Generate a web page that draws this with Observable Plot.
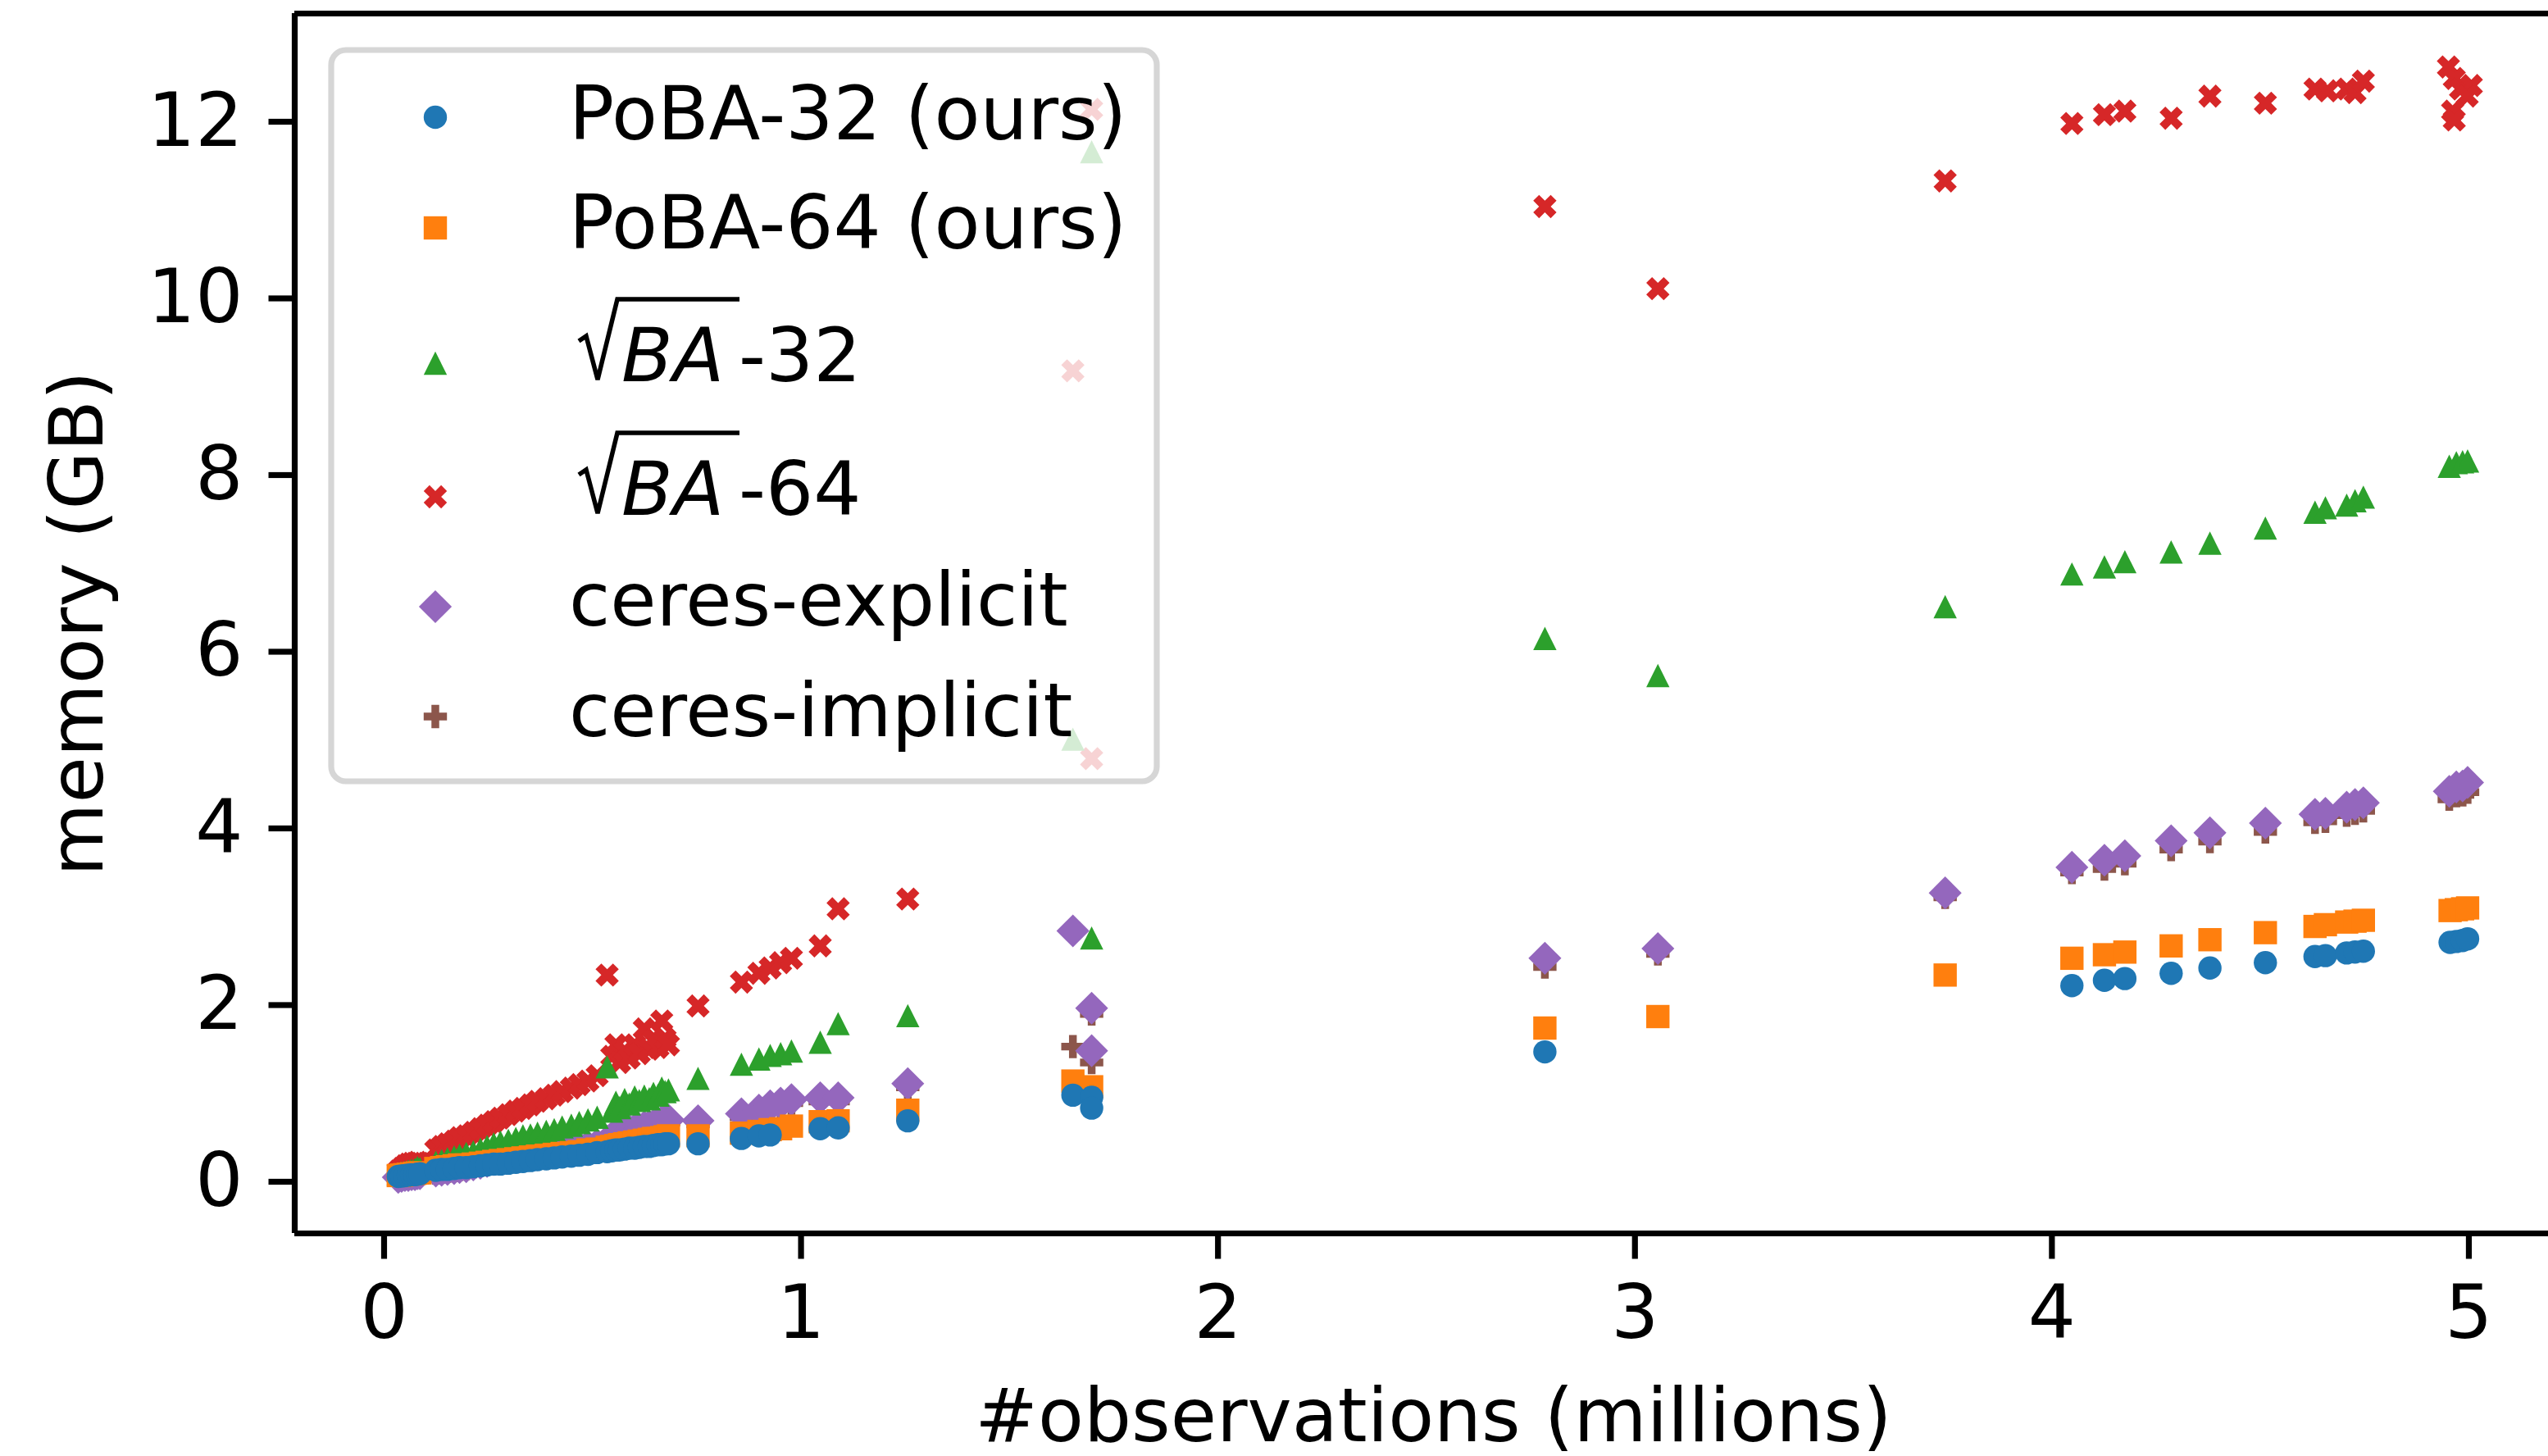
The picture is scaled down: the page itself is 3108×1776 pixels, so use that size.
<!DOCTYPE html>
<html>
<head>
<meta charset="utf-8">
<script src="https://cdn.jsdelivr.net/npm/d3@7"></script>
<script src="https://cdn.jsdelivr.net/npm/@observablehq/plot@0.6"></script>
<style>
  html, body { margin: 0; padding: 0; background: #fff; }
  #chart { width: 3108px; height: 1776px; }
</style>
</head>
<body>
<div id="chart"></div>
<script>
// ---------------- data (x = #observations in millions, y = memory in GB) ----------------
const xTicks = [0, 1, 2, 3, 4, 5];
const yTicks = [0, 2, 4, 6, 8, 10, 12];
const seriesNames = ["PoBA-32 (ours)", "PoBA-64 (ours)", "BA-32", "BA-64", "ceres-explicit", "ceres-implicit"];
const seriesColors = ["#1f77b4", "#ff7f0e", "#2ca02c", "#d62728", "#9467bd", "#8c564b"];

const poba32 = [
  [0.034,0.06],[0.042,0.065],[0.050,0.07],[0.058,0.075],[0.066,0.08],[0.074,0.08],[0.080,0.085],[0.086,0.09],
  [0.124,0.13],[0.138,0.14],[0.152,0.14],[0.168,0.15],[0.181,0.16],[0.197,0.16],[0.214,0.17],[0.231,0.18],
  [0.247,0.19],[0.263,0.20],[0.279,0.20],[0.298,0.21],[0.316,0.22],[0.333,0.23],[0.351,0.24],[0.368,0.25],
  [0.389,0.26],[0.408,0.27],[0.427,0.28],[0.449,0.29],[0.468,0.30],[0.489,0.31],[0.511,0.33],[0.535,0.34],
  [0.546,0.35],[0.556,0.36],[0.565,0.36],[0.577,0.37],[0.588,0.38],[0.601,0.38],[0.612,0.39],[0.624,0.40],
  [0.636,0.40],[0.646,0.41],[0.657,0.42],[0.666,0.42],[0.674,0.43],[0.682,0.43],
  [0.753,0.43],[0.857,0.49],[0.899,0.52],[0.926,0.53],[1.046,0.60],[1.089,0.61],[1.256,0.69],
  [1.652,0.98],[1.697,0.955],[1.697,0.834],
  [2.784,1.47],
  [4.048,2.22],[4.126,2.28],[4.175,2.30],[4.286,2.36],[4.379,2.42],[4.512,2.48],[4.631,2.55],[4.656,2.56],
  [4.707,2.59],[4.727,2.60],[4.747,2.61],[4.955,2.71],[4.970,2.72],[4.985,2.73],[4.997,2.75]
];

const poba64 = [
  [0.034,0.07],[0.042,0.075],[0.050,0.08],[0.058,0.085],[0.066,0.09],[0.074,0.095],[0.080,0.10],[0.086,0.10],
  [0.124,0.15],[0.138,0.16],[0.152,0.17],[0.168,0.18],[0.181,0.19],[0.197,0.19],[0.214,0.20],[0.231,0.21],
  [0.247,0.22],[0.263,0.23],[0.279,0.24],[0.298,0.25],[0.316,0.26],[0.333,0.27],[0.351,0.28],[0.368,0.29],
  [0.389,0.30],[0.408,0.31],[0.427,0.32],[0.449,0.33],[0.468,0.34],[0.489,0.36],[0.511,0.37],[0.535,0.39],
  [0.546,0.40],[0.556,0.41],[0.565,0.42],[0.577,0.43],[0.588,0.44],[0.601,0.45],[0.612,0.46],[0.624,0.47],
  [0.636,0.48],[0.646,0.49],[0.657,0.49],[0.666,0.50],[0.674,0.51],[0.682,0.52],
  [0.753,0.52],[0.857,0.55],[0.899,0.57],[0.926,0.59],[0.951,0.60],[0.977,0.63],[1.046,0.68],[1.089,0.69],[1.256,0.81],
  [1.652,1.14],[1.697,1.075],
  [2.784,1.74],[3.055,1.87],[3.744,2.34],
  [4.048,2.53],[4.126,2.57],[4.175,2.60],[4.286,2.67],[4.379,2.74],[4.512,2.82],[4.631,2.89],[4.656,2.91],
  [4.707,2.94],[4.727,2.95],[4.747,2.96],[4.955,3.07],[4.970,3.08],[4.985,3.09],[4.997,3.10]
];

const sqrtBa32 = [
  [0.034,0.09],[0.042,0.10],[0.050,0.11],[0.058,0.12],[0.066,0.13],[0.074,0.14],[0.080,0.16],[0.086,0.15],
  [0.124,0.22],[0.138,0.24],[0.152,0.26],[0.168,0.28],[0.181,0.30],[0.197,0.32],[0.214,0.34],[0.231,0.37],
  [0.247,0.40],[0.263,0.43],[0.279,0.45],[0.298,0.47],[0.316,0.49],[0.333,0.52],[0.351,0.53],[0.368,0.55],
  [0.389,0.57],[0.408,0.59],[0.427,0.62],[0.449,0.64],[0.468,0.67],[0.489,0.70],[0.511,0.73],[0.535,1.30],
  [0.546,0.80],[0.556,0.90],[0.565,0.84],[0.577,0.93],[0.588,0.88],[0.601,0.96],[0.612,0.92],[0.624,0.97],
  [0.636,0.94],[0.646,1.00],[0.657,0.98],[0.666,1.06],[0.674,1.02],[0.682,1.04],
  [0.753,1.17],[0.857,1.33],[0.899,1.39],[0.926,1.43],[0.951,1.45],[0.977,1.48],[1.046,1.58],[1.089,1.79],[1.256,1.88],
  [1.652,5.01],[1.697,11.66],[1.697,2.76],
  [2.784,6.15],[3.055,5.73],[3.744,6.51],
  [4.048,6.88],[4.126,6.96],[4.175,7.02],[4.286,7.13],[4.379,7.23],[4.512,7.40],[4.631,7.58],[4.656,7.63],
  [4.707,7.66],[4.727,7.71],[4.747,7.75],[4.953,8.10],[4.970,8.14],[4.985,8.15],[4.997,8.16]
];

const sqrtBa64 = [
  [0.034,0.12],[0.042,0.15],[0.050,0.18],[0.058,0.20],[0.066,0.21],[0.074,0.21],[0.080,0.22],[0.086,0.21],
  [0.124,0.36],[0.138,0.40],[0.152,0.43],[0.168,0.46],[0.181,0.50],[0.197,0.52],[0.214,0.56],[0.231,0.60],
  [0.247,0.64],[0.263,0.68],[0.279,0.72],[0.298,0.76],[0.316,0.80],[0.333,0.83],[0.351,0.87],[0.368,0.91],
  [0.389,0.94],[0.408,0.98],[0.427,1.02],[0.449,1.06],[0.468,1.10],[0.489,1.14],[0.511,1.20],[0.535,2.34],
  [0.546,1.42],[0.556,1.55],[0.565,1.35],[0.577,1.48],[0.588,1.40],[0.601,1.55],[0.612,1.45],[0.624,1.73],
  [0.636,1.50],[0.646,1.60],[0.657,1.52],[0.666,1.82],[0.674,1.62],[0.682,1.55],
  [0.753,1.99],[0.857,2.26],[0.899,2.36],[0.926,2.42],[0.951,2.48],[0.977,2.53],[1.046,2.67],[1.089,3.09],[1.256,3.20],
  [1.652,9.18],[1.697,12.14],[1.697,4.79],
  [2.784,11.04],[3.055,10.11],[3.744,11.33],
  [4.048,11.98],[4.126,12.08],[4.175,12.12],[4.286,12.04],[4.379,12.29],[4.512,12.21],[4.631,12.37],[4.661,12.35],
  [4.707,12.37],[4.727,12.33],[4.747,12.46],[4.951,12.62],[4.965,12.49],[4.980,12.37],[5.006,12.41],[4.996,12.29],
  [4.961,12.12],[4.965,12.02]
];

const ceresExplicit = [
  [0.034,0.05],[0.042,0.06],[0.050,0.07],[0.058,0.07],[0.066,0.08],[0.074,0.08],[0.080,0.09],[0.086,0.09],
  [0.124,0.12],[0.138,0.13],[0.152,0.14],[0.168,0.15],[0.181,0.16],[0.197,0.17],[0.214,0.19],[0.231,0.21],
  [0.247,0.23],[0.263,0.25],[0.279,0.26],[0.298,0.28],[0.316,0.29],[0.333,0.30],[0.351,0.31],[0.368,0.33],
  [0.389,0.34],[0.408,0.35],[0.427,0.36],[0.449,0.38],[0.468,0.39],[0.489,0.40],[0.511,0.42],[0.535,0.46],
  [0.546,0.50],[0.556,0.52],[0.565,0.55],[0.577,0.56],[0.588,0.58],[0.601,0.59],[0.612,0.60],[0.624,0.62],
  [0.636,0.63],[0.646,0.64],[0.657,0.66],[0.666,0.68],[0.674,0.69],[0.682,0.70],
  [0.753,0.69],[0.857,0.77],[0.899,0.81],[0.926,0.86],[0.951,0.89],[0.977,0.93],[1.046,0.95],[1.089,0.95],[1.256,1.11],
  [1.652,2.84],[1.697,1.965],[1.697,1.483],
  [2.784,2.53],[3.055,2.64],[3.744,3.27],
  [4.048,3.56],[4.126,3.64],[4.175,3.69],[4.286,3.86],[4.379,3.95],[4.512,4.06],[4.631,4.16],[4.656,4.17],
  [4.707,4.24],[4.727,4.27],[4.747,4.29],[4.953,4.42],[4.970,4.47],[4.985,4.48],[4.997,4.52]
];

const ceresImplicit = [
  [0.034,0.04],[0.042,0.05],[0.050,0.06],[0.058,0.06],[0.066,0.07],[0.074,0.07],[0.080,0.08],[0.086,0.08],
  [0.124,0.10],[0.138,0.11],[0.152,0.12],[0.168,0.13],[0.181,0.14],[0.197,0.15],[0.214,0.17],[0.231,0.19],
  [0.247,0.21],[0.263,0.23],[0.279,0.24],[0.298,0.26],[0.316,0.27],[0.333,0.28],[0.351,0.29],[0.368,0.31],
  [0.389,0.32],[0.408,0.33],[0.427,0.34],[0.449,0.36],[0.468,0.37],[0.489,0.38],[0.511,0.40],[0.535,0.44],
  [0.546,0.47],[0.556,0.49],[0.565,0.52],[0.577,0.53],[0.588,0.55],[0.601,0.56],[0.612,0.57],[0.624,0.59],
  [0.636,0.60],[0.646,0.61],[0.657,0.63],[0.666,0.64],[0.674,0.66],[0.682,0.67],
  [0.753,0.65],[0.857,0.73],[0.899,0.77],[0.926,0.82],[0.951,0.85],[0.977,0.89],[1.046,0.91],[1.089,0.91],[1.256,1.07],
  [1.652,1.53],[1.697,1.90],[1.697,1.35],
  [2.784,2.43],[3.055,2.58],[3.744,3.22],
  [4.048,3.50],[4.126,3.54],[4.175,3.60],[4.286,3.76],[4.379,3.85],[4.512,3.96],[4.631,4.07],[4.656,4.08],
  [4.707,4.15],[4.727,4.17],[4.747,4.20],[4.953,4.33],[4.970,4.37],[4.985,4.38],[4.997,4.41]
];

// ---------------- marker shapes (matplotlib-like) ----------------
function polySymbol(pts) {
  return {
    draw(ctx, size) {
      const r = Math.sqrt(size / Math.PI);
      ctx.moveTo(pts[0][0] * r, pts[0][1] * r);
      for (let i = 1; i < pts.length; i++) ctx.lineTo(pts[i][0] * r, pts[i][1] * r);
      ctx.closePath();
    }
  };
}
const circleSym = { draw(ctx, size) { const r = Math.sqrt(size / Math.PI); ctx.moveTo(r, 0); ctx.arc(0, 0, r, 0, 2 * Math.PI); ctx.closePath(); } };
const squareSym = polySymbol([[-1,-1],[1,-1],[1,1],[-1,1]]);
const triangleSym = polySymbol([[0,-1],[1,1],[-1,1]]);
const xFilledSym = polySymbol([[-1,-2],[0,-1],[1,-2],[2,-1],[1,0],[2,1],[1,2],[0,1],[-1,2],[-2,1],[-1,0],[-2,-1]].map(([a,b]) => [a/2, b/2]));
const diamondSym = polySymbol([[0,-1.414],[1.414,0],[0,1.414],[-1.414,0]]);
const plusFilledSym = polySymbol([[-1,-3],[1,-3],[1,-1],[3,-1],[3,1],[1,1],[1,3],[-1,3],[-1,1],[-3,1],[-3,-1],[-1,-1]].map(([a,b]) => [a/3, b/3]));
const seriesSymbols = [circleSym, squareSym, triangleSym, xFilledSym, diamondSym, plusFilledSym];

// ---------------- chart ----------------
const W = 3108, H = 1776;
const xDomain = [-0.2143, 5.1908];
const yDomain = [-0.585, 13.225];
const R = 14.2;
const FONT = "DejaVu Sans";
const FS = 91.5;

const dotsOf = (data, k) => Plot.dot(data, {x: d => d[0], y: d => d[1], r: R, symbol: seriesSymbols[k], fill: seriesColors[k]});

const chart = Plot.plot({
  width: W,
  height: H,
  marginLeft: 359,
  marginRight: 0,
  marginTop: 16,
  marginBottom: 272,
  style: {fontFamily: FONT, fontSize: FS + "px", background: "white", color: "black", overflow: "visible"},
  x: {domain: xDomain},
  y: {domain: yDomain},
  marks: [
    // drawing order as in the reference: ceres first, PoBA on top
    dotsOf(ceresImplicit, 5),
    dotsOf(ceresExplicit, 4),
    dotsOf(sqrtBa64, 3),
    dotsOf(sqrtBa32, 2),
    dotsOf(poba64, 1),
    dotsOf(poba32, 0),
    Plot.ruleX([xDomain[0]], {stroke: "black", strokeWidth: 7.2}),
    Plot.ruleY([yDomain[0], yDomain[1]], {stroke: "black", strokeWidth: 7.2}),
    Plot.axisX(xTicks, {anchor: "bottom", tickSize: 31.5, tickPadding: 31.5, strokeWidth: 7.2, fontSize: FS, label: null, tickFormat: d => String(d)}),
    Plot.axisY(yTicks, {anchor: "left", tickSize: 31.5, tickPadding: 31.5, strokeWidth: 7.2, fontSize: FS, label: null, tickFormat: d => String(d)}),
    Plot.text(["memory (GB)"], {frameAnchor: "left", rotate: -90, textAnchor: "middle", lineAnchor: "bottom", dx: -235, fontSize: FS, fontFamily: FONT}),
    Plot.text(["#observations (millions)"], {frameAnchor: "bottom", textAnchor: "middle", lineAnchor: "bottom", dx: 14.5, dy: 253, fontSize: FS, fontFamily: FONT})
  ]
});
document.getElementById("chart").appendChild(chart);

// ---------------- legend (overlay inside the axes, like matplotlib) ----------------
const legendBox = {x: 404, y: 61, w: 1007, h: 892};
const legendMarkerX = 531;
const legendMarkerY = [143, 278, 443, 606, 740, 874];
const legendBaseline = [170, 303, 465, 628, 763, 898];
const legendTextX = 694;

const svg = d3.select(chart);
const lg = svg.append("g")
  .attr("font-family", FONT).attr("font-size", FS)
  .attr("text-anchor", "start").attr("fill", "black");
lg.append("rect")
  .attr("x", legendBox.x).attr("y", legendBox.y)
  .attr("width", legendBox.w).attr("height", legendBox.h)
  .attr("rx", 18).attr("ry", 18)
  .attr("fill", "white").attr("fill-opacity", 0.8)
  .attr("stroke", "#cccccc").attr("stroke-opacity", 0.8).attr("stroke-width", 7.2);

seriesNames.forEach((name, i) => {
  const p = d3.path();
  seriesSymbols[i].draw(p, R * R * Math.PI);
  lg.append("path")
    .attr("transform", `translate(${legendMarkerX},${legendMarkerY[i]})`)
    .attr("d", p.toString())
    .attr("fill", seriesColors[i]);
  const b = legendBaseline[i];
  if (name.startsWith("BA-")) {
    // math text: \sqrt{BA}-NN
    lg.append("path")
      .attr("d", `M706,${b - 49} L715,${b - 55} L729,${b - 2} L753,${b - 100} L902,${b - 100}`)
      .attr("fill", "none").attr("stroke", "black").attr("stroke-width", 5.5).attr("stroke-linejoin", "miter");
    lg.append("text").attr("x", 758).attr("y", b).attr("font-style", "italic").text("BA");
    lg.append("text").attr("x", 901).attr("y", b).text(name.slice(2));
  } else {
    lg.append("text").attr("x", legendTextX).attr("y", b).text(name);
  }
});
</script>
</body>
</html>
